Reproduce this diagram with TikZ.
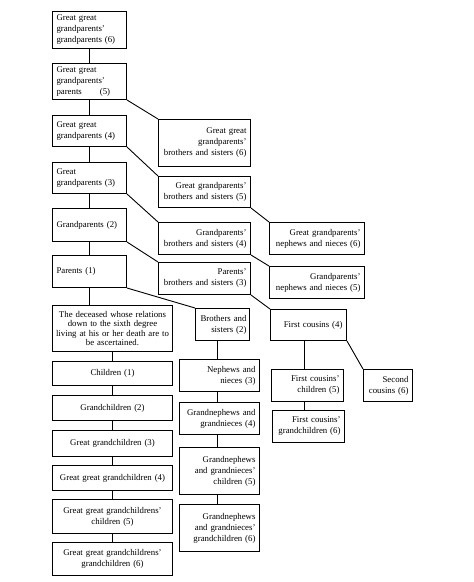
\documentclass[tikz,border=0pt]{standalone}
\usepackage{fontspec}
\setmainfont{Liberation Serif}
\begin{document}
\begin{tikzpicture}[x=1pt,y=1pt,
  box/.style={draw, line width=1pt, inner xsep=4pt, inner ysep=0pt, anchor=north west,
     font=\fontsize{8.8}{11}\selectfont},
  link/.style={line width=0.9pt}]
\useasboundingbox (0,0) rectangle (474,-582);
\newcommand{\mybox}[7]{%
  \pgfmathsetmacro\tw{#4-8}%
  \node[box,align=#6,text width=\tw pt,minimum height=#5pt] (#1) at (#2,-#3) {#7};}
% left ascending column
\mybox{b1}{52}{11}{74}{37}{left}{Great great\\grandparents’\\grandparents (6)}
\mybox{b2}{52}{63}{74}{36}{left}{Great great\\grandparents’\\parents\hspace{18pt}(5)}
\mybox{b3}{52}{115}{74}{31}{left}{Great great\\grandparents (4)}
\mybox{b4}{52}{162}{74}{31}{left}{Great\\grandparents (3)}
\mybox{b5}{52}{208}{74}{33}{left}{Grandparents (2)}
\mybox{b6}{52}{255}{74}{32}{left}{Parents (1)}
\node[box,align=center,inner xsep=3pt,text width=114pt,minimum height=46pt,font=\fontsize{8.8}{9.6}\selectfont] (dec) at (52,-305)
  {The deceased whose relations\\down to the sixth degree\\living at his or her death are to\\be ascertained.};
% descendants
\mybox{c1}{52}{361}{120}{24}{center}{Children (1)}
\mybox{c2}{52}{395}{120}{25}{center}{Grandchildren (2)}
\mybox{c3}{52}{430}{120}{26}{center}{Great grandchildren (3)}
\mybox{c4}{52}{465}{120}{25}{center}{Great great grandchildren (4)}
\mybox{c5}{52}{499}{120}{34}{center}{Great great grandchildrens’\\children (5)}
\mybox{c6}{52}{542}{120}{33}{center}{Great great grandchildrens’\\grandchildren (6)}
% collateral column 1
\mybox{s6}{158}{119}{92}{47}{right}{Great great\\grandparents’\\brothers and sisters (6)}
\mybox{s5}{158}{176}{92}{31}{right}{Great grandparents’\\brothers and sisters (5)}
\mybox{s4}{158}{222}{92}{32}{right}{Grandparents’\\brothers and sisters (4)}
\mybox{s3}{158}{262}{92}{32}{right}{Parents’\\brothers and sisters (3)}
% collateral column 2
\mybox{n6}{269}{222}{95}{32}{right}{Great grandparents’\\nephews and nieces (6)}
\mybox{n5}{269}{266}{95}{32}{right}{Grandparents’\\nephews and nieces (5)}
% siblings line
\node[box,align=right,inner xsep=3pt,text width=48pt,minimum height=32pt] (bs) at (195,-308) {Brothers and\\sisters (2)};
\mybox{ne3}{179}{359}{80}{32}{right}{Nephews and\\nieces (3)}
\mybox{ne4}{179}{402}{80}{32}{right}{Grandnephews and\\grandnieces (4)}
\mybox{ne5}{179}{447}{80}{47}{right}{Grandnephews\\and grandnieces’\\children (5)}
\mybox{ne6}{179}{504}{80}{47}{right}{Grandnephews\\and grandnieces’\\grandchildren (6)}
% cousins
\mybox{fc}{270}{309}{76}{31}{right}{First cousins (4)}
\mybox{fc5}{271}{369}{72}{32}{right}{First cousins’\\children (5)}
\mybox{fc6}{272}{410}{72}{32}{right}{First cousins’\\grandchildren (6)}
\mybox{sc}{363}{369}{49}{32}{right}{Second\\cousins (6)}
% vertical links
\draw[link] (b1.south) -- (b2.north);
\draw[link] (b2.south) -- (b3.north);
\draw[link] (b3.south) -- (b4.north);
\draw[link] (b4.south) -- (b5.north);
\draw[link] (b5.south) -- (b6.north);
\draw[link] (b6.south) -- (b6.south |- dec.north);
\draw[link] (dec.south) -- (c1.north);
\draw[link] (c1.south) -- (c2.north);
\draw[link] (c2.south) -- (c3.north);
\draw[link] (c3.south) -- (c4.north);
\draw[link] (c4.south) -- (c5.north);
\draw[link] (c5.south) -- (c6.north);
\draw[link] ([xshift=-5pt]bs.south) -- ([xshift=-5pt]bs.south |- ne3.north);
\draw[link] ([xshift=-2pt]ne3.south) -- ([xshift=-2pt]ne3.south |- ne4.north);
\draw[link] ([xshift=-2pt]ne4.south) -- ([xshift=-2pt]ne4.south |- ne5.north);
\draw[link] ([xshift=-2pt]ne5.south) -- ([xshift=-2pt]ne5.south |- ne6.north);
\draw[link] ([xshift=-4pt]fc.south) -- ([xshift=-4pt]fc.south |- fc5.north);
\draw[link] ([xshift=-3pt]fc5.south) -- ([xshift=-3pt]fc5.south |- fc6.north);
% diagonal links
\draw[link] (b2.south east) -- (s6.north west);
\draw[link] (b3.south east) -- (s5.north west);
\draw[link] (b4.south east) -- (s4.north west);
\draw[link] (b5.south east) -- (s3.north west);
\draw[link] (b6.south east) -- (bs.north west);
\draw[link] (s5.south east) -- (n6.north west);
\draw[link] (s4.south east) -- (n5.north west);
\draw[link] (s3.south east) -- (fc.north west);
\draw[link] (fc.south east) -- (sc.north west);
\end{tikzpicture}
\end{document}
